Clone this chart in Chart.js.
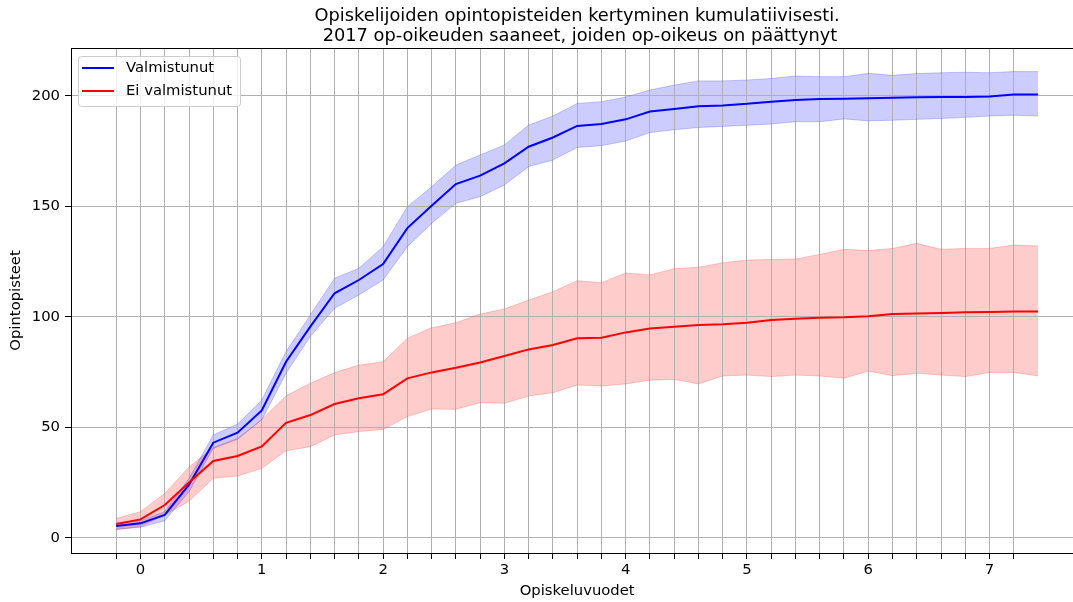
<!DOCTYPE html>
<html>
<head>
<meta charset="utf-8">
<script src="https://cdn.jsdelivr.net/npm/chart.js@4"></script>
<style>
  html, body { margin: 0; padding: 0; background: #ffffff; }
  #wrap { width: 1073px; height: 602px; position: relative; }
</style>
</head>
<body>
<div id="wrap"><canvas id="chart" width="1073" height="602"></canvas></div>
<script>
// Study years since the right to study began
const years = [-0.2, 0.0, 0.2, 0.4, 0.6, 0.8, 1.0, 1.2, 1.4, 1.6, 1.8, 2.0, 2.2, 2.4, 2.6, 2.8, 3.0, 3.2, 3.4, 3.6,
               3.8, 4.0, 4.2, 4.4, 4.6, 4.8, 5.0, 5.2, 5.4, 5.6, 5.8, 6.0, 6.2, 6.4, 6.6, 6.8, 7.0, 7.2, 7.4];

// Graduated students: mean cumulative credits and confidence band
const valmistunutMean  = [5.3, 6.5, 10.3, 24.0, 43.0, 47.5, 57.6, 79.6, 95.5, 110.6, 116.6, 123.8, 140.1, 150.2, 160.0, 163.8, 169.4, 176.9, 181.1, 186.3,
                          187.2, 189.3, 192.8, 194.0, 195.2, 195.6, 196.3, 197.3, 198.0, 198.5, 198.6, 198.8, 199.1, 199.3, 199.4, 199.4, 199.6, 200.5, 200.5];
const valmistunutUpper = [6.6, 7.7, 11.8, 26.9, 46.5, 51.4, 62.3, 84.2, 100.8, 117.4, 121.9, 131.7, 149.8, 158.8, 168.6, 173.2, 177.7, 186.7, 190.8, 196.5,
                          197.3, 199.4, 202.6, 204.8, 206.7, 206.7, 207.1, 207.8, 208.9, 208.6, 208.6, 210.1, 209.2, 210.0, 210.4, 210.6, 210.4, 210.9, 210.9];
const valmistunutLower = [3.8, 4.7, 7.7, 20.8, 40.4, 44.5, 53.3, 74.4, 91.0, 103.8, 109.8, 116.6, 131.7, 142.2, 151.3, 154.3, 159.6, 167.9, 170.9, 176.6,
                          177.4, 179.5, 183.3, 184.6, 185.6, 186.1, 186.6, 187.2, 188.2, 188.2, 189.5, 188.6, 188.9, 189.3, 189.7, 190.2, 190.8, 191.2, 190.8];

// Students who did not graduate
const eiValmistunutMean  = [6.2, 8.3, 14.8, 25.0, 34.7, 37.0, 41.3, 52.0, 55.5, 60.5, 63.1, 64.9, 72.1, 74.8, 76.9, 79.3, 82.2, 85.2, 87.2, 90.2,
                            90.5, 92.9, 94.7, 95.5, 96.2, 96.6, 97.3, 98.5, 99.1, 99.5, 99.7, 100.2, 101.2, 101.4, 101.7, 102.0, 102.1, 102.3, 102.3];
const eiValmistunutUpper = [8.8, 11.8, 20.0, 32.0, 40.8, 45.0, 53.5, 64.2, 69.9, 74.7, 78.1, 79.6, 90.3, 95.0, 97.3, 101.2, 103.5, 107.5, 111.3, 116.3,
                            115.4, 119.8, 118.9, 121.7, 122.4, 124.4, 125.6, 125.9, 126.1, 128.2, 130.5, 129.9, 130.9, 133.2, 130.5, 130.9, 130.9, 132.4, 132.0];
const eiValmistunutLower = [3.6, 5.0, 10.3, 16.5, 26.9, 27.9, 31.4, 39.3, 41.2, 46.5, 48.0, 49.0, 54.8, 58.2, 58.1, 61.1, 60.8, 64.1, 65.6, 69.1,
                            68.6, 69.6, 71.3, 71.6, 69.6, 73.2, 73.6, 72.9, 73.6, 73.2, 72.1, 75.4, 73.3, 74.4, 73.6, 72.9, 74.8, 74.8, 73.2];

// Axis ticks
const xTickValues = [-0.2, 0.0, 0.2, 0.4, 0.6, 0.8, 1.0, 1.2, 1.4, 1.6, 1.8, 2.0, 2.2, 2.4, 2.6, 2.8, 3.0, 3.2, 3.4, 3.6,
                     3.8, 4.0, 4.2, 4.4, 4.6, 4.8, 5.0, 5.2, 5.4, 5.6, 5.8, 6.0, 6.2, 6.4, 6.6, 6.8, 7.0, 7.2];
const yTickValues = [0, 50, 100, 150, 200];

// Texts
const seriesNames = ['Valmistunut', 'Ei valmistunut'];
const titleLines = ['Opiskelijoiden opintopisteiden kertyminen kumulatiivisesti.', ' 2017 op-oikeuden saaneet, joiden op-oikeus on päättynyt'];
const xAxisLabel = 'Opiskeluvuodet';
const yAxisLabel = 'Opintopisteet';

const FONT = '"DejaVu Sans", sans-serif';
const points = arr => years.map((x, i) => ({ x, y: arr[i] }));

// Axis extent of the full plot frame (the visible part is cut at the right edge)
const frameMin = -0.58, frameMax = 7.78;

const decorations = {
  id: 'decorations',
  afterDraw(chart) {
    const { ctx, chartArea: a, scales: { x } } = chart;
    ctx.save();
    // top frame line
    ctx.strokeStyle = '#000';
    ctx.lineWidth = 1;
    ctx.beginPath();
    ctx.moveTo(a.left, a.top + 0.5);
    ctx.lineTo(a.right, a.top + 0.5);
    ctx.stroke();

    const cx = x.getPixelForValue((frameMin + frameMax) / 2);
    ctx.fillStyle = '#000';
    ctx.textAlign = 'center';
    ctx.textBaseline = 'alphabetic';
    ctx.font = '17.8px ' + FONT;
    ctx.fillText(titleLines[0], cx, 21);
    ctx.fillText(titleLines[1], cx, 40.5);

    ctx.font = '14.8px ' + FONT;
    ctx.textBaseline = 'middle';
    ctx.fillText(xAxisLabel, cx, 591);
    ctx.save();
    ctx.translate(16, (a.top + a.bottom) / 2);
    ctx.rotate(-Math.PI / 2);
    ctx.fillText(yAxisLabel, 0, 0);
    ctx.restore();

    // legend
    ctx.beginPath();
    ctx.roundRect(78.5, 56.5, 162, 50, 3);
    ctx.fillStyle = 'rgba(255,255,255,0.8)';
    ctx.fill();
    ctx.strokeStyle = '#cccccc';
    ctx.lineWidth = 1;
    ctx.stroke();
    const colors = ['#0000ff', '#ff0000'];
    const rowsY = [68, 91];
    seriesNames.forEach((name, i) => {
      ctx.strokeStyle = colors[i];
      ctx.lineWidth = 2;
      ctx.beginPath();
      ctx.moveTo(82, rowsY[i]);
      ctx.lineTo(114, rowsY[i]);
      ctx.stroke();
      ctx.fillStyle = '#000';
      ctx.textAlign = 'left';
      ctx.fillText(name, 126, rowsY[i]);
    });
    ctx.restore();
  }
};

const band = (data, color, fill, order) => ({
  data: points(data),
  borderColor: color,
  borderWidth: 1,
  backgroundColor: color,
  pointRadius: 0,
  fill,
  order,
  tension: 0
});

new Chart(document.getElementById('chart'), {
  type: 'line',
  data: {
    datasets: [
      band(valmistunutUpper, 'rgba(0,0,255,0.2)', '+1', 3),
      band(valmistunutLower, 'rgba(0,0,255,0.2)', false, 3),
      { label: seriesNames[0], data: points(valmistunutMean), borderColor: '#0000ff', borderWidth: 2, pointRadius: 0, fill: false, order: 1 },
      band(eiValmistunutUpper, 'rgba(255,0,0,0.2)', '+1', 2),
      band(eiValmistunutLower, 'rgba(255,0,0,0.2)', false, 2),
      { label: seriesNames[1], data: points(eiValmistunutMean), borderColor: '#ff0000', borderWidth: 2, pointRadius: 0, fill: false, order: 0 }
    ]
  },
  options: {
    responsive: false,
    animation: false,
    devicePixelRatio: 1,
    layout: { padding: { left: 0, right: 0, top: 48, bottom: 0 } },
    plugins: {
      legend: { display: false },
      title: { display: false },
      tooltip: { enabled: false },
      filler: { drawTime: 'beforeDraw' }
    },
    scales: {
      x: {
        type: 'linear',
        min: -0.573,
        max: 7.688,
        afterBuildTicks: s => { s.ticks = xTickValues.map(v => ({ value: v })); },
        afterFit: s => { s.height = 49; },
        grid: { color: '#b0b0b0', lineWidth: 1, tickColor: '#000', tickLength: 6, drawTicks: true },
        border: { display: true, color: '#000', width: 1 },
        ticks: {
          autoSkip: false, maxRotation: 0, minRotation: 0, padding: 2,
          color: '#000', font: { family: FONT, size: 14.8 },
          callback: v => (Math.abs(v - Math.round(v)) < 1e-6 ? String(Math.round(v)) : '')
        }
      },
      y: {
        type: 'linear',
        min: -6.92,
        max: 221.58,
        afterBuildTicks: s => { s.ticks = yTickValues.map(v => ({ value: v })); },
        afterFit: s => { s.width = 71; },
        grid: { color: '#b0b0b0', lineWidth: 1, tickColor: '#000', tickLength: 6, drawTicks: true },
        border: { display: true, color: '#000', width: 1 },
        ticks: { padding: 5, color: '#000', font: { family: FONT, size: 14.8 }, callback: v => String(v) }
      }
    }
  },
  plugins: [decorations]
});
</script>
</body>
</html>
